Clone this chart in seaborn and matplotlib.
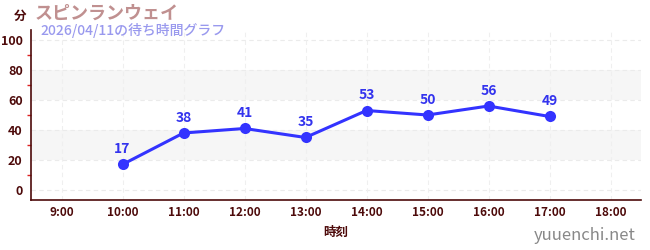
import matplotlib
matplotlib.use("Agg")
import matplotlib.pyplot as plt
import seaborn as sns
import pandas as pd

hours = [10, 11, 12, 13, 14, 15, 16, 17]
waits = [17, 38, 41, 35, 53, 50, 56, 49]
xticks = [9, 10, 11, 12, 13, 14, 15, 16, 17, 18]
xticklabels = [f"{h}:00" for h in xticks]
title = "スピンランウェイ"
subtitle = "2026/04/11の待ち時間グラフ"

sns.set_theme(style="white")
plt.rcParams['font.family'] = ['Noto Sans CJK JP', 'DejaVu Sans']

df = pd.DataFrame({"hour": hours, "wait": waits})

fig = plt.figure(figsize=(6.5, 2.5), dpi=100)
ax = fig.add_axes([31/650, 50/250, (641-31)/650, (200-30)/250])

dark = "#4d0a0a"
ax.set_xlim(8.5, 18.5)
ax.set_ylim(-6.7, 106.7)

for lo, hi in [(20, 40), (60, 80)]:
    ax.axhspan(lo, hi, color="#f6f6f6", zorder=0, lw=0)
for y in [0, 20, 40, 60, 80, 100]:
    ax.axhline(y, color="#ebebeb", lw=0.8, ls=(0, (4, 3)), zorder=0.5)
for x in xticks:
    ax.axvline(x, color="#efefef", lw=0.8, ls=(0, (4, 3)), zorder=0.5)

sns.lineplot(data=df, x="hour", y="wait", ax=ax, color="#3333ff", lw=2.2,
             marker="o", markersize=8, markeredgewidth=0, zorder=3)
for h, w in zip(hours, waits):
    ax.annotate(str(w), (h, w), xytext=(0, 6), textcoords="offset points",
                ha="center", va="bottom", color="#3333ee", fontsize=10,
                fontweight="bold")

ax.set_xticks(xticks)
ax.set_xticklabels(xticklabels)
ax.set_yticks([0, 20, 40, 60, 80, 100])
ax.set_yticks([10, 30, 50, 70, 90], minor=True)
ax.tick_params(axis="x", colors="#777777", length=4, width=1.5, labelsize=8.5,
               labelcolor=dark, pad=0)
ax.tick_params(axis="y", which="major", colors="#333333", length=4, width=1,
               labelsize=9, labelcolor=dark, pad=2)
ax.tick_params(axis="y", which="minor", colors="#dd2222", length=3, width=1, left=True)
for lab in ax.get_xticklabels():
    lab.set_fontweight("bold")
for lab in ax.get_yticklabels():
    lab.set_fontweight("bold")

for s in ["top", "right"]:
    ax.spines[s].set_visible(False)
for s in ["left", "bottom"]:
    ax.spines[s].set_color(dark)
    ax.spines[s].set_linewidth(1.2)

ax.set_xlabel("時刻", color=dark, fontsize=9, fontweight="bold", labelpad=5)
ax.set_ylabel("")

fig.text(20/650, 1 - 16/250, "分", color=dark, fontsize=9, fontweight="bold",
         ha="center", va="center")
fig.text(35/650, 1 - 13/250, title, color="#c09090", fontsize=13,
         fontweight="bold", ha="left", va="center")
fig.text(40/650, 1 - 31/250, subtitle, color="#9999ee", fontsize=10,
         fontweight="medium", ha="left", va="center")
fig.text(636/650, 1 - 235/250, "yuuenchi.net", color="#888888", fontsize=12,
         ha="right", va="center")

fig.savefig("out.png", dpi=100)
